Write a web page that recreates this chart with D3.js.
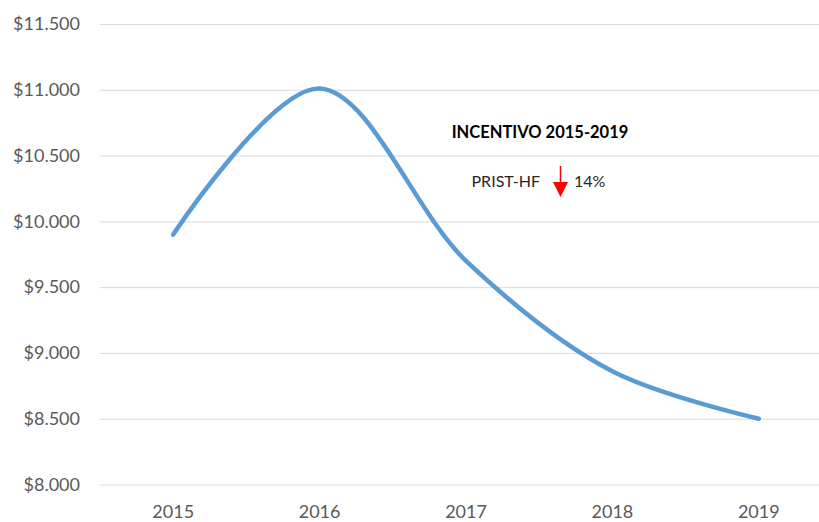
<!DOCTYPE html>
<html>
<head>
<meta charset="utf-8">
<script src="https://cdn.jsdelivr.net/npm/d3@7"></script>
<style>
  body { margin: 0; background: #fff; }
  svg { display: block; }
</style>
</head>
<body>
<div id="chart"></div>
<script>
// datos
const years = ['2015', '2016', '2017', '2018', '2019']
const incentivo = [9900, 11010, 9700, 8860, 8500]
const yTicks = [8000, 8500, 9000, 9500, 10000, 10500, 11000, 11500]
const noteTitle = 'INCENTIVO 2015-2019'
const noteLabel = 'PRIST-HF'
const noteValue = '14%'

const width = 819, height = 522
const margin = {left: 100, top: 24, right: -13, bottom: 37.5}

const svg = d3.select('#chart')
  .append('svg')
  .attr('width', width)
  .attr('height', height)

// escalas
const x = d3.scaleBand()
  .domain(years)
  .range([margin.left, width - margin.right])
const y = d3.scaleLinear()
  .domain([8000, 11500])
  .range([height - margin.bottom, margin.top])

const es = d3.formatLocale({decimal: ',', thousands: '.', grouping: [3], currency: ['$', '']})
const fmt = es.format('$,.0f')

// eje y + lineas de cuadricula
const yAxis = svg.append('g')
  .attr('transform', `translate(${margin.left},0)`)
  .call(d3.axisLeft(y).tickValues(yTicks).tickFormat(fmt)
    .tickSize(-(width - margin.left - margin.right)).tickPadding(20))
yAxis.select('.domain').remove()
yAxis.selectAll('.tick line').attr('stroke', '#d9d9d9').attr('stroke-width', 1)
yAxis.selectAll('.tick text')
  .attr('fill', '#595959')
  .style('font-family', 'Lato, sans-serif')
  .style('font-size', '18px')

// eje x
const xAxis = svg.append('g')
  .attr('transform', `translate(0,${height - margin.bottom})`)
  .call(d3.axisBottom(x).tickSize(0).tickPadding(21))
xAxis.select('.domain').remove()
xAxis.selectAll('.tick text')
  .attr('fill', '#595959')
  .style('font-family', 'Lato, sans-serif')
  .style('font-size', '18px')

// linea suavizada
const line = d3.line()
  .x((d, i) => x(years[i]) + x.bandwidth() / 2)
  .y(d => y(d))
  .curve(d3.curveCatmullRom.alpha(0.5))

svg.append('path')
  .datum(incentivo)
  .attr('d', line)
  .attr('fill', 'none')
  .attr('stroke', '#5b9bd5')
  .attr('stroke-width', 4.5)
  .attr('stroke-linecap', 'round')

// anotacion
svg.append('text')
  .attr('x', 540).attr('y', 138)
  .attr('text-anchor', 'middle')
  .attr('fill', '#000')
  .style('font-family', 'Lato, sans-serif')
  .style('font-weight', 'bold')
  .style('font-size', '16.5px')
  .text(noteTitle)

svg.append('text')
  .attr('x', 540).attr('y', 187)
  .attr('text-anchor', 'end')
  .attr('fill', '#262626')
  .style('font-family', 'Lato, sans-serif')
  .style('font-size', '16px')
  .text(noteLabel)

svg.append('text')
  .attr('x', 574).attr('y', 187)
  .attr('fill', '#262626')
  .style('font-family', 'Lato, sans-serif')
  .style('font-size', '16px')
  .text(noteValue)

// flecha roja
svg.append('line')
  .attr('x1', 560.5).attr('y1', 166)
  .attr('x2', 560.5).attr('y2', 184)
  .attr('stroke', '#ff0000')
  .attr('stroke-width', 1.5)
svg.append('path')
  .attr('d', 'M553,182 L568,182 L560.5,197 Z')
  .attr('fill', '#ff0000')
</script>
</body>
</html>
